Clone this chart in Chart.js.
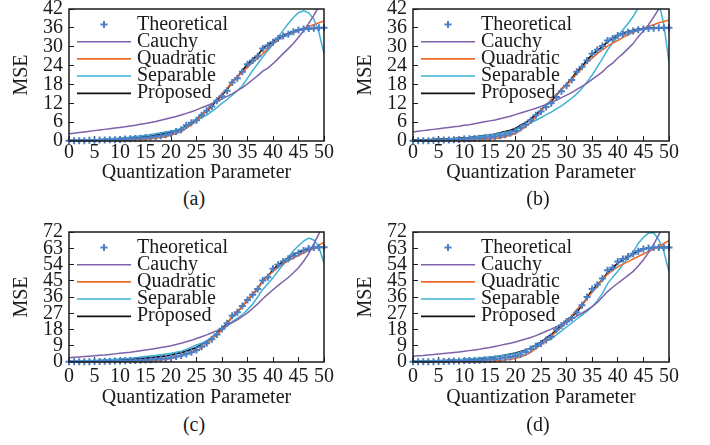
<!DOCTYPE html>
<html>
<head>
<meta charset="utf-8">
<script src="https://cdn.jsdelivr.net/npm/chart.js@4.4.1/dist/chart.umd.min.js"></script>
<style>
  body { margin: 0; background: #fff; }
  #wrap { position: relative; width: 710px; height: 445px; overflow: hidden; font-family: 'Liberation Serif', 'Times New Roman', serif; }
  canvas { position: absolute; }
  .cap { position: absolute; width: 60px; text-align: center; font-size: 20px; line-height: 24px; color: #1a1a1a; }
</style>
</head>
<body>
<div id="wrap">
  <canvas id="chartA" width="355" height="185" style="left:0;top:0"></canvas>
  <canvas id="chartB" width="355" height="185" style="left:344px;top:0"></canvas>
  <canvas id="chartC" width="355" height="187" style="left:0;top:223px"></canvas>
  <canvas id="chartD" width="355" height="187" style="left:344px;top:223px"></canvas>
  <div class="cap" style="left:164px;top:186px">(a)</div>
  <div class="cap" style="left:508px;top:186px">(b)</div>
  <div class="cap" style="left:164px;top:412px">(c)</div>
  <div class="cap" style="left:508px;top:412px">(d)</div>
</div>
<script>
// 양자화 파라미터 (x축)
const qp = [0,1,2,3,4,5,6,7,8,9,10,11,12,13,14,15,16,17,18,19,20,21,22,23,24,25,
  26,27,28,29,30,31,32,33,34,35,36,37,38,39,40,41,42,43,44,45,46,47,48,49,50];
const xTicks = [0, 5, 10, 15, 20, 25, 30, 35, 40, 45, 50];
const yTicksTop = [0, 6, 12, 18, 24, 30, 36, 42];
const yTicksBottom = [0, 9, 18, 27, 36, 45, 54, 63, 72];

// (a)
const theoreticalA = [0.1,0.1,0.1,0.1,0.2,0.2,0.3,0.3,0.4,0.4, 0.5,0.6,0.7,0.8,0.9,1.0,1.2,1.4,1.7,2.0, 2.4,3.0,3.6,5.0,5.8,6.6,8.2,9.6,11.0,12.8, 14.2,16.0,18.6,20.0,22.0,24.4,25.6,27.0,29.4,30.4, 31.4,32.6,33.4,34.0,34.8,35.3,35.6,35.8,35.9,36.0, 36.0];
const cauchyA = [2.3,2.5,2.7,2.9,3.1,3.3,3.5,3.7,3.9,4.1, 4.3,4.5,4.8,5.0,5.3,5.6,5.9,6.2,6.6,7.0, 7.4,7.8,8.3,8.8,9.3,9.9,10.6,11.2,11.9,12.6, 13.4,14.2,15.0,16.0,17.0,18.2,19.5,20.8,22.2,23.2, 24.6,26.2,27.8,29.4,31.0,33.0,35.0,37.4,40.0,42.8, 45.6];
const quadraticA = [0,0,0,0,0,0,0,0,0.05,0.1, 0.1,0.15,0.2,0.3,0.4,0.5,0.7,0.9,1.1,1.4, 1.8,2.4,3.0,4.0,5.2,6.6,8.2,9.8,11.6,13.4, 15.0,16.8,18.8,20.4,21.8,23.4,25.0,26.4,27.8,29.4, 31.0,32.2,33.2,34.0,34.6,35.2,35.8,36.4,37.0,37.6, 38.2];
const separableA = [0.1,0.1,0.2,0.2,0.3,0.4,0.5,0.6,0.7,0.8, 0.9,1.0,1.2,1.4,1.6,1.8,2.0,2.3,2.6,2.9, 3.2,3.5,3.8,4.5,5.6,6.6,7.4,8.2,9.4,10.6, 12.0,13.2,14.6,16.0,17.6,20.0,22.4,24.6,26.8,28.8, 30.8,33.0,35.2,37.4,39.3,40.8,41.4,40.8,38.8,34.6, 27.8];
const proposedA = [0.2,0.2,0.2,0.3,0.3,0.4,0.4,0.5,0.6,0.7, 0.8,0.9,1.0,1.1,1.2,1.4,1.6,1.9,2.1,2.4, 2.7,3.3,3.8,4.8,5.8,6.8,8.4,9.6,11.2,13.0, 14.6,16.4,18.8,20.2,22.4,24.4,26.0,27.2,29.4,30.6, 31.6,32.8,33.6,34.2,34.8,35.2,35.5,35.7,35.8,35.9, 36.0];

// (b)
const theoreticalB = [0.1,0.1,0.1,0.1,0.2,0.2,0.3,0.3,0.4,0.5, 0.6,0.7,0.8,0.9,1.0,1.2,1.4,1.7,2.0,2.5, 3.2,4.2,5.2,6.6,8.2,9.4,10.8,12.0,14.0,15.8, 17.6,19.4,22.0,23.6,25.6,27.8,29.0,30.2,32.0,32.6, 33.6,34.0,34.6,35.0,35.4,35.6,35.8,35.9,36.0,36.0, 36.0];
const cauchyB = [2.9,3.1,3.3,3.5,3.7,3.9,4.1,4.3,4.5,4.7, 5.0,5.2,5.5,5.8,6.1,6.4,6.7,7.1,7.5,7.9, 8.4,8.9,9.4,9.9,10.4,11.0,11.6,12.3,13.0,13.8, 14.6,15.4,16.4,17.4,18.4,19.6,20.8,22.0,23.6,24.8, 26.4,27.8,29.4,31.0,33.2,35.0,37.0,39.4,42.0,44.6, 47.2];
const quadraticB = [0,0,0,0,0,0,0,0,0,0.05, 0.1,0.15,0.2,0.3,0.45,0.6,0.8,1.0,1.4,1.8, 2.4,3.4,4.6,6.0,7.6,9.4,11.4,13.2,14.8,16.4, 17.8,19.4,21.4,23.2,25.0,26.4,27.8,29.0,30.2,31.2, 32.0,33.0,33.8,34.6,35.2,35.8,36.4,37.0,37.6,38.0, 38.5];
const separableB = [0.1,0.1,0.2,0.2,0.3,0.4,0.5,0.6,0.7,0.8, 0.9,1.0,1.2,1.4,1.6,1.8,2.1,2.4,2.7,3.0, 3.5,4.2,5.0,5.8,6.6,7.4,8.4,9.2,10.2,11.2, 12.4,13.6,15.0,16.8,18.8,21.0,23.6,26.2,29.0,31.2, 33.4,35.4,37.4,39.6,42.4,45.0,46.8,46.6,44.4,37.0, 25.0];
const proposedB = [0.3,0.3,0.4,0.4,0.5,0.6,0.6,0.7,0.8,0.9, 1.0,1.1,1.3,1.5,1.7,1.9,2.2,2.6,3.0,3.4, 4.0,5.0,5.8,7.0,8.4,9.8,11.4,12.6,14.6,16.4, 18.0,19.8,22.2,23.6,25.8,27.4,28.8,30.0,31.6,32.6, 33.6,34.2,34.8,35.2,35.6,35.8,35.9,36.0,36.0,36.0, 36.0];

// (c)
const theoreticalC = [0.1,0.1,0.1,0.2,0.2,0.3,0.3,0.4,0.4,0.5, 0.6,0.7,0.8,0.9,1.0,1.1,1.3,1.5,1.8,2.0, 2.4,3.0,3.6,4.4,5.4,6.6,8.4,10.4,12.6,15.2, 18.4,21.4,25.6,27.6,31.0,34.4,37.2,40.4,45.2,47.0, 51.6,53.8,55.6,57.2,58.8,60.4,61.8,62.8,63.4,63.6, 63.6];
const cauchyC = [2.4,2.6,2.8,3.0,3.2,3.4,3.7,3.9,4.2,4.5, 4.8,5.1,5.4,5.8,6.2,6.6,7.0,7.5,8.0,8.5, 9.0,9.7,10.4,11.2,12.0,13.0,14.0,15.0,16.2,17.4, 18.8,20.2,21.8,23.4,25.2,27.2,29.6,32.2,35.0,37.6, 40.0,42.4,44.6,46.8,49.4,52.2,55.8,60.0,65.4,71.0, 77.0];
const quadraticC = [0,0,0,0,0,0,0,0,0,0.05, 0.1,0.1,0.15,0.2,0.25,0.3,0.5,0.7,1.0,1.4, 1.9,2.6,3.4,4.4,5.2,6.2,8.0,10.2,12.6,15.0, 17.8,21.0,25.4,27.8,31.0,34.6,37.4,40.4,44.6,47.4, 50.2,52.4,54.4,56.0,57.6,59.0,60.4,61.6,63.0,64.6, 66.4];
const separableC = [0.4,0.5,0.6,0.7,0.8,0.9,1.0,1.2,1.3,1.5, 1.7,1.9,2.1,2.4,2.7,3.0,3.3,3.6,4.0,4.4, 4.8,5.4,6.0,7.0,8.2,9.4,10.4,11.6,13.4,15.4, 17.6,20.0,22.4,24.2,26.2,29.0,32.0,36.0,40.2,43.4, 46.6,50.4,54.0,58.0,61.6,64.4,67.0,68.6,67.6,63.6, 55.0];
const proposedC = [0.4,0.4,0.5,0.5,0.6,0.7,0.8,0.9,1.0,1.1, 1.2,1.4,1.5,1.7,1.9,2.1,2.4,2.7,3.0,3.4, 3.8,4.6,5.2,6.0,7.0,8.0,9.8,11.4,13.4,15.8, 18.6,21.2,25.0,27.4,31.0,34.2,37.4,40.6,45.0,47.4, 51.2,53.6,55.6,57.4,59.6,60.8,61.8,62.6,63.2,63.5, 63.6];

// (d)
const theoreticalD = [0.1,0.1,0.1,0.2,0.2,0.3,0.3,0.4,0.5,0.6, 0.7,0.8,0.9,1.0,1.2,1.4,1.7,2.0,2.4,2.8, 3.3,4.2,5.6,7.2,8.8,10.2,12.2,14.0,18.0,20.2, 22.4,24.4,27.4,31.4,36.0,40.4,42.8,46.2,50.8,52.2, 55.6,57.0,58.4,60.0,61.4,62.6,63.2,63.4,63.4,63.4, 63.4];
const cauchyD = [3.2,3.4,3.6,3.9,4.1,4.4,4.7,5.0,5.3,5.6, 5.9,6.3,6.7,7.1,7.6,8.0,8.6,9.2,9.8,10.4, 11.1,11.9,12.7,13.6,14.6,15.8,17.0,18.2,19.5,20.8, 22.3,23.8,25.4,27.0,28.8,30.6,33.0,36.0,39.0,41.4, 43.6,45.8,48.0,50.2,53.2,56.6,60.6,65.0,70.4,76.0, 82.0];
const quadraticD = [0,0,0,0,0,0,0,0,0,0.05, 0.1,0.1,0.15,0.2,0.3,0.4,0.6,0.8,1.1,1.5, 2.0,2.8,3.8,5.4,7.4,9.6,11.8,14.2,16.8,19.6, 22.4,25.6,29.0,32.0,35.2,38.6,42.0,45.6,48.6,50.8, 52.8,54.2,55.6,57.0,58.4,59.8,61.2,62.6,64.0,65.6, 67.2];
const separableD = [0.3,0.4,0.5,0.6,0.7,0.8,0.9,1.0,1.1,1.3, 1.5,1.7,1.9,2.2,2.5,2.8,3.1,3.4,3.8,4.2, 4.6,5.4,6.4,7.6,8.8,10.2,11.6,13.0,15.0,17.2, 19.4,21.6,23.8,26.0,28.2,30.6,34.0,38.0,43.4,47.0, 50.2,54.0,57.6,60.6,65.8,69.0,71.4,71.6,67.8,61.2, 50.0];
const proposedD = [0.4,0.4,0.5,0.5,0.6,0.7,0.8,0.9,1.0,1.1, 1.3,1.5,1.7,1.9,2.2,2.5,2.9,3.3,3.8,4.4, 5.0,5.8,6.6,7.8,9.4,11.0,13.2,15.2,17.6,20.4, 23.0,25.2,27.6,31.4,35.6,39.8,42.6,45.6,49.6,52.2, 54.8,56.6,58.2,60.0,61.6,62.6,63.2,63.4,63.5,63.5, 63.5];

const INK = '#1a1a1a';
const COLORS = {
  theo: '#4a7ec6',
  cauchy: '#7d62a9',
  quad: '#f06a2c',
  sep: '#3fb2d4',
  prop: '#111111',
};

Chart.defaults.font.family = "'Liberation Serif', 'Times New Roman', serif";
Chart.defaults.font.size = 20;
Chart.defaults.color = INK;

// 범례 (플롯 내부) + 외곽 박스
const insideLegend = {
  id: 'insideLegend',
  afterDatasetsDraw(chart) {
    const { ctx, chartArea: a } = chart;
    ctx.save();
    ctx.font = "20px 'Liberation Serif', 'Times New Roman', serif";
    ctx.fillStyle = INK;
    ctx.textBaseline = 'alphabetic';
    chart.data.datasets.forEach((ds, i) => {
      const y = a.top + 15.5 + i * 17.2;
      const x0 = a.left + 8, x1 = a.left + 62;
      ctx.strokeStyle = ds.borderColor;
      ctx.lineWidth = ds.showLine === false ? 2 : ds.borderWidth;
      ctx.beginPath();
      if (ds.showLine === false) {
        const cx = (x0 + x1) / 2;
        ctx.moveTo(cx - 3.5, y); ctx.lineTo(cx + 3.5, y);
        ctx.moveTo(cx, y - 3.5); ctx.lineTo(cx, y + 3.5);
      } else {
        ctx.moveTo(x0, y); ctx.lineTo(x1, y);
      }
      ctx.stroke();
      ctx.fillText(ds.label, a.left + 68, y + 5);
    });
    ctx.strokeStyle = INK;
    ctx.lineWidth = 1.5;
    ctx.strokeRect(a.left, a.top, a.right - a.left, a.bottom - a.top);
    ctx.restore();
  },
};

function buildChart(id, s, yTicks, box) {
  const pts = (arr) => qp.map((q, i) => ({ x: q, y: arr[i] }));
  const line = (label, arr, color, width) => ({
    label, data: pts(arr), borderColor: color, backgroundColor: color,
    borderWidth: width, pointRadius: 0, fill: false,
  });

  new Chart(document.getElementById(id), {
    type: 'line',
    data: {
      datasets: [
        {
          label: 'Theoretical', data: pts(s.theo), showLine: false,
          pointStyle: 'cross', pointRadius: 3.5, pointBorderWidth: 2,
          borderColor: COLORS.theo, pointBorderColor: COLORS.theo, clip: false,
        },
        line('Cauchy', s.cauchy, COLORS.cauchy, 1.5),
        line('Quadratic', s.quad, COLORS.quad, 1.6),
        line('Separable', s.sep, COLORS.sep, 1.5),
        line('Proposed', s.prop, COLORS.prop, 1.7),
      ],
    },
    plugins: [insideLegend],
    options: {
      responsive: false,
      animation: false,
      devicePixelRatio: 1,
      layout: { padding: { top: box.top, right: box.right, left: 0, bottom: 0 } },
      plugins: { legend: { display: false }, tooltip: { enabled: false } },
      events: [],
      scales: {
        x: {
          type: 'linear', min: 0, max: 50,
          afterBuildTicks: (sc) => { sc.ticks = xTicks.map((v) => ({ value: v })); },
          afterFit: (sc) => { sc.height = box.xHeight; sc.paddingLeft = 0; sc.paddingRight = 0; },
          ticks: { color: INK, padding: box.tickPad, maxRotation: 0, autoSkip: false },
          grid: { drawOnChartArea: false, tickLength: -5, color: INK, lineWidth: 1 },
          border: { display: false },
          title: { display: true, text: 'Quantization Parameter', color: INK, padding: 0 },
        },
        y: {
          type: 'linear', min: 0, max: yTicks[yTicks.length - 1],
          afterBuildTicks: (sc) => { sc.ticks = yTicks.map((v) => ({ value: v })); },
          afterFit: (sc) => { sc.width = 69; sc.paddingTop = 0; sc.paddingBottom = 0; },
          ticks: { color: INK, padding: 11, autoSkip: false },
          grid: { drawOnChartArea: false, tickLength: -5, color: INK, lineWidth: 1 },
          border: { display: false },
          title: { display: true, text: 'MSE', color: INK, padding: { top: 10, bottom: 0 } },
        },
      },
    },
  });
}

buildChart('chartA',
  { theo: theoreticalA, cauchy: cauchyA, quad: quadraticA, sep: separableA, prop: proposedA },
  yTicksTop, { top: 9, right: 31, xHeight: 44, tickPad: 5 });
buildChart('chartB',
  { theo: theoreticalB, cauchy: cauchyB, quad: quadraticB, sep: separableB, prop: proposedB },
  yTicksTop, { top: 9, right: 30, xHeight: 44, tickPad: 5 });
buildChart('chartC',
  { theo: theoreticalC, cauchy: cauchyC, quad: quadraticC, sep: separableC, prop: proposedC },
  yTicksBottom, { top: 9, right: 31, xHeight: 48, tickPad: 8 });
buildChart('chartD',
  { theo: theoreticalD, cauchy: cauchyD, quad: quadraticD, sep: separableD, prop: proposedD },
  yTicksBottom, { top: 9, right: 30, xHeight: 48, tickPad: 8 });
</script>
</body>
</html>
